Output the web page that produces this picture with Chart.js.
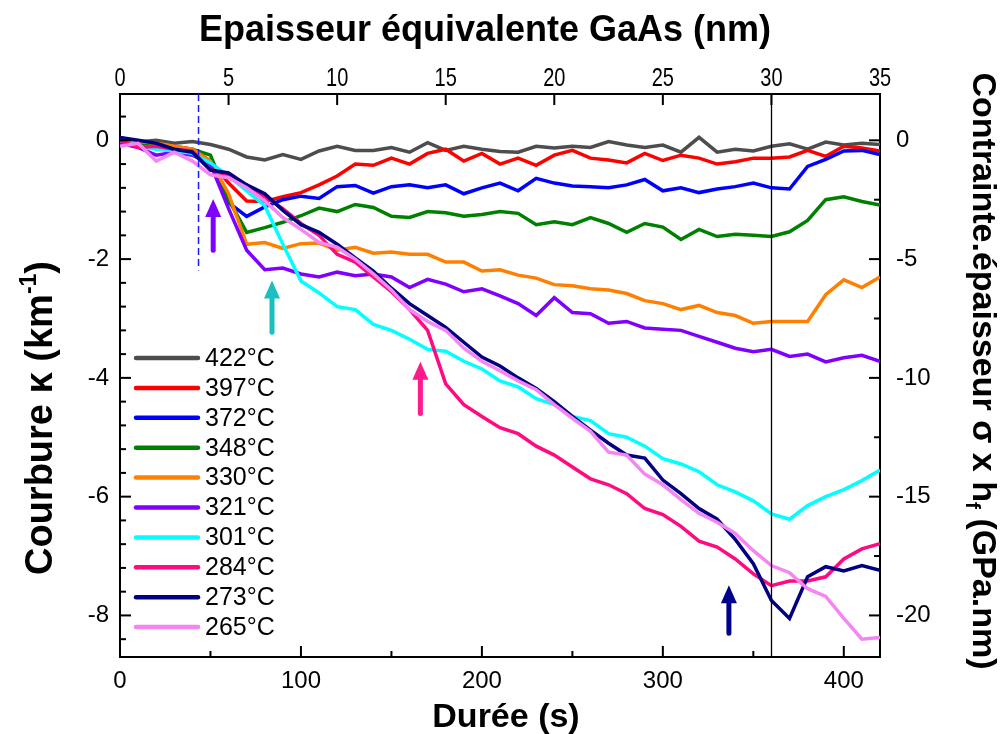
<!DOCTYPE html>
<html><head><meta charset="utf-8">
<script src="https://cdn.jsdelivr.net/npm/chart.js@4.4.1/dist/chart.umd.min.js"></script>
<style>html,body{margin:0;padding:0;background:#fff}#wrap{width:1002px;height:734px}</style>
</head><body><div id="wrap"><canvas id="c" width="1002" height="734"></canvas></div>
<script>
// ---------- data ----------
const times = [0,10,20,30,40,50,60,70,80,90,100,110,120,130,140,150,160,170,180,190,200,210,220,230,240,250,260,270,280,290,300,310,320,330,340,350,360,370,380,390,400,410,420];
const seriesLabels = ['422°C','397°C','372°C','348°C','330°C','321°C','301°C','284°C','273°C','265°C'];
const s422 = [0.02,-0.03,0.0,-0.05,-0.02,-0.07,-0.15,-0.28,-0.33,-0.24,-0.32,-0.18,-0.1,-0.17,-0.17,-0.12,-0.2,-0.04,-0.17,-0.1,-0.15,-0.19,-0.2,-0.1,-0.13,-0.1,-0.12,-0.02,-0.08,-0.12,-0.08,-0.2,0.05,-0.2,-0.15,-0.18,-0.1,-0.06,-0.15,-0.03,-0.08,-0.05,-0.07];
const s397 = [0.0,-0.1,-0.12,-0.1,-0.15,-0.35,-0.72,-1.02,-1.03,-0.95,-0.88,-0.75,-0.6,-0.4,-0.42,-0.3,-0.4,-0.22,-0.15,-0.35,-0.22,-0.4,-0.3,-0.42,-0.25,-0.17,-0.3,-0.33,-0.38,-0.22,-0.34,-0.25,-0.3,-0.4,-0.36,-0.3,-0.3,-0.28,-0.17,-0.27,-0.1,-0.13,-0.18];
const s372 = [0.05,-0.05,-0.1,-0.12,-0.18,-0.4,-1.05,-1.28,-1.12,-1.0,-0.94,-0.98,-0.78,-0.76,-0.89,-0.78,-0.75,-0.8,-0.75,-0.9,-0.8,-0.72,-0.85,-0.64,-0.72,-0.77,-0.78,-0.8,-0.75,-0.66,-0.85,-0.8,-0.88,-0.82,-0.78,-0.72,-0.8,-0.82,-0.44,-0.32,-0.18,-0.17,-0.24];
const s348 = [0.0,-0.05,-0.08,-0.12,-0.15,-0.25,-1.0,-1.55,-1.47,-1.38,-1.27,-1.14,-1.2,-1.08,-1.13,-1.28,-1.3,-1.2,-1.22,-1.28,-1.25,-1.2,-1.23,-1.42,-1.37,-1.42,-1.3,-1.4,-1.55,-1.4,-1.46,-1.67,-1.5,-1.62,-1.58,-1.6,-1.62,-1.54,-1.35,-1.0,-0.95,-1.03,-1.09];
const s330 = [0.0,-0.02,-0.05,-0.1,-0.15,-0.35,-0.9,-1.75,-1.72,-1.82,-1.74,-1.73,-1.85,-1.8,-1.9,-1.88,-1.92,-1.92,-2.05,-2.05,-2.2,-2.18,-2.27,-2.32,-2.43,-2.45,-2.5,-2.52,-2.58,-2.7,-2.75,-2.85,-2.78,-2.9,-2.95,-3.08,-3.05,-3.05,-3.05,-2.6,-2.35,-2.48,-2.3];
const s321 = [-0.05,-0.12,-0.25,-0.2,-0.25,-0.4,-1.15,-1.85,-2.18,-2.15,-2.25,-2.3,-2.22,-2.28,-2.25,-2.3,-2.48,-2.34,-2.42,-2.55,-2.5,-2.62,-2.75,-2.95,-2.65,-2.9,-2.92,-3.08,-3.05,-3.16,-3.18,-3.2,-3.3,-3.4,-3.5,-3.56,-3.52,-3.64,-3.6,-3.73,-3.66,-3.62,-3.72];
const s301 = [0.0,-0.1,-0.15,-0.18,-0.22,-0.38,-0.6,-0.85,-1.1,-1.75,-2.37,-2.57,-2.8,-2.85,-3.1,-3.2,-3.35,-3.52,-3.55,-3.72,-3.85,-4.05,-4.15,-4.35,-4.45,-4.65,-4.72,-4.94,-5.0,-5.15,-5.36,-5.45,-5.58,-5.8,-5.92,-6.07,-6.29,-6.38,-6.15,-6.0,-5.88,-5.73,-5.55];
const s284 = [0.0,-0.12,-0.1,-0.15,-0.18,-0.5,-0.58,-0.75,-0.95,-1.15,-1.4,-1.6,-1.92,-2.05,-2.3,-2.55,-2.85,-3.2,-4.1,-4.45,-4.65,-4.84,-4.94,-5.15,-5.3,-5.5,-5.7,-5.8,-5.95,-6.2,-6.3,-6.5,-6.75,-6.85,-7.05,-7.3,-7.5,-7.42,-7.42,-7.35,-7.05,-6.88,-6.79];
const s273 = [0.05,0.0,-0.05,-0.15,-0.2,-0.5,-0.55,-0.75,-0.9,-1.18,-1.42,-1.55,-1.75,-1.98,-2.2,-2.49,-2.75,-2.95,-3.15,-3.4,-3.65,-3.8,-4.0,-4.18,-4.4,-4.65,-4.88,-5.1,-5.3,-5.35,-5.72,-5.95,-6.2,-6.38,-6.72,-7.13,-7.75,-8.05,-7.35,-7.18,-7.25,-7.16,-7.24];
const s265 = [-0.1,-0.05,-0.35,-0.2,-0.35,-0.58,-0.63,-0.8,-1.02,-1.3,-1.5,-1.72,-1.8,-2.0,-2.25,-2.52,-2.85,-3.05,-3.2,-3.5,-3.72,-3.88,-4.05,-4.2,-4.45,-4.68,-4.9,-5.25,-5.3,-5.62,-5.8,-6.05,-6.28,-6.43,-6.62,-6.91,-7.16,-7.28,-7.55,-7.68,-8.05,-8.4,-8.37];
const allSeries = [s422,s397,s372,s348,s330,s321,s301,s284,s273,s265];
// annotation values (data units)
const growthEndTime = 360;          // vertical black line (s)
const dashTime = 43.4;              // blue dashed line (s)
const dashBottom = -2.19;           // its lower end (km-1)
const arrowTimes = [51.5, 84, 166, 336.5];
const arrowTips  = [-0.99, -2.36, -3.73, -7.49];
const arrowTails = [-1.85, -3.23, -4.6, -8.3];
// axis ranges
const xMin = 0, xMax = 420, xTop = 35;
const yMin = -8.7, yMax = 0.78;
const y2Min = -21.75, y2Max = 1.95;

// ---------- styles ----------
const colors = ['#4d4d4d','#ff0000','#0000ff','#008000','#ff8000','#8000ff','#00ffff','#ff0a80','#000080','#f585f2'];
const arrowColors = ['#8000ff','#1abfbf','#ff1a8c','#00008c'];
const FONT = "'Liberation Sans', Arial, Helvetica, sans-serif";

const datasets = allSeries.map((vals,i)=>({
  label: seriesLabels[i],
  data: times.map((t,j)=>({x:t, y:vals[j]})),
  borderColor: colors[i], backgroundColor: colors[i],
  borderWidth: 3.5, pointRadius: 0, tension: 0, fill: false,
  order: allSeries.length - i, xAxisID:'x', yAxisID:'y'
}));

function drawRich(ctx, parts, cx, cy, angle, sxScale){
  ctx.save();
  ctx.translate(cx, cy); ctx.rotate(angle); ctx.scale(sxScale||1, 1);
  let total = 0;
  parts.forEach(p=>{ ctx.font = p.f; p.w = ctx.measureText(p.t).width; total += p.w; });
  let x = -total/2;
  ctx.textBaseline = 'alphabetic'; ctx.textAlign = 'left'; ctx.fillStyle = '#000';
  parts.forEach(p=>{ ctx.font = p.f; ctx.fillText(p.t, x, p.dy||0); x += p.w; });
  ctx.restore();
}

const deco = {
  id: 'deco',
  afterDatasetsDraw(chart){
    const ctx = chart.ctx, a = chart.chartArea;
    const sx = chart.scales.x, sy = chart.scales.y;
    ctx.save();
    ctx.strokeStyle = '#000'; ctx.lineWidth = 1.3;
    const vx = Math.round(sx.getPixelForValue(growthEndTime)) + 0.5;
    ctx.beginPath(); ctx.moveTo(vx, a.top); ctx.lineTo(vx, a.bottom); ctx.stroke();
    ctx.strokeStyle = '#1a1aff'; ctx.lineWidth = 1.5; ctx.setLineDash([7,4]);
    const dx = sx.getPixelForValue(dashTime);
    ctx.beginPath(); ctx.moveTo(dx, a.top); ctx.lineTo(dx, sy.getPixelForValue(dashBottom)); ctx.stroke();
    ctx.setLineDash([]);
    arrowTimes.forEach((t,i)=>{
      const x = sx.getPixelForValue(t), yt = sy.getPixelForValue(arrowTips[i]), yb = sy.getPixelForValue(arrowTails[i]);
      ctx.fillStyle = arrowColors[i]; ctx.strokeStyle = arrowColors[i];
      const hl = 18, hw = 8;
      ctx.lineWidth = 5; ctx.lineCap = 'round';
      ctx.beginPath(); ctx.moveTo(x, yb); ctx.lineTo(x, yt + hl - 2); ctx.stroke();
      ctx.beginPath(); ctx.moveTo(x, yt); ctx.lineTo(x - hw, yt + hl); ctx.lineTo(x + hw, yt + hl); ctx.closePath(); ctx.fill();
    });
    ctx.lineCap = 'butt';
    ctx.restore();
  },
  afterDraw(chart){
    const ctx = chart.ctx, a = chart.chartArea;
    const sx = chart.scales.x, sx2 = chart.scales.x2, sy = chart.scales.y, sy2 = chart.scales.y2;
    ctx.save();
    ctx.strokeStyle = '#000'; ctx.lineWidth = 2;
    const tick = (x1,y1,x2,y2)=>{ ctx.beginPath(); ctx.moveTo(x1,y1); ctx.lineTo(x2,y2); ctx.stroke(); };
    for (let k = 1; k >= -21; k--) {
      const v = k*0.4, y = sy.getPixelForValue(v);
      const major = Math.abs(v/2 - Math.round(v/2)) < 1e-6;
      tick(a.left, y, a.left + (major ? 11 : 6), y);
    }
    for (let k = 0; k >= -8; k--) {
      const v = k*2.5, y = sy2.getPixelForValue(v);
      tick(a.right, y, a.right - (k % 2 === 0 ? 11 : 6), y);
    }
    for (let v = 0; v <= 400; v += 50) {
      const x = sx.getPixelForValue(v);
      tick(x, a.bottom, x, a.bottom - (v % 100 === 0 ? 11 : 6));
    }
    for (let v = 5; v <= 30; v += 5) {
      const x = sx2.getPixelForValue(v);
      tick(x, a.top, x, a.top + 11);
    }
    sx2.ticks.forEach(tk=>{
      drawRich(ctx, [{t:String(tk.value), f:'25px ' + FONT}], sx2.getPixelForValue(tk.value), 86, 0, 0.8);
    });
    const lx0 = 136, lx1 = 198, ly0 = 358, dy = 29.9;
    ctx.font = '25px ' + FONT; ctx.textBaseline = 'middle'; ctx.textAlign = 'left';
    chart.data.datasets.forEach((d,i)=>{
      const y = ly0 + i*dy;
      ctx.strokeStyle = d.borderColor; ctx.lineWidth = 4.5; ctx.lineCap = 'round';
      ctx.beginPath(); ctx.moveTo(lx0, y); ctx.lineTo(lx1, y); ctx.stroke();
      ctx.fillStyle = '#000'; ctx.fillText(d.label, 205, y + 1);
    });
    ctx.restore();
    const B = 'bold 34px ' + FONT, Bs = 'bold 21px ' + FONT;
    drawRich(ctx, [{t:'Epaisseur équivalente GaAs (nm)', f:'bold 36px ' + FONT}], 485, 41, 0);
    drawRich(ctx, [{t:'Durée (s)', f:B}], 506, 727, 0);
    drawRich(ctx, [{t:'Courbure κ (km', f:'bold 38px ' + FONT},{t:'-1', f:'bold 23px ' + FONT, dy:-16},{t:')', f:'bold 38px ' + FONT}], 52, 418, -Math.PI/2);
    drawRich(ctx, [{t:'Contrainte.épaisseur σ x h', f:B},{t:'f', f:Bs, dy:7},{t:' (GPa.nm)', f:B}], 973, 371, Math.PI/2);
  }
};

const tickFont = {family: FONT, size: 24};
new Chart(document.getElementById('c'), {
  type: 'line',
  data: { datasets },
  options: {
    responsive: false, animation: false, devicePixelRatio: 1,
    layout: { padding: 0 },
    plugins: { legend: {display:false}, tooltip: {enabled:false}, title: {display:false} },
    scales: {
      x: { type:'linear', position:'bottom', min:xMin, max:xMax,
           ticks:{ stepSize:100, includeBounds:false, font:tickFont, color:'#000', padding:10, maxRotation:0 },
           grid:{ display:false, drawTicks:false }, border:{ display:true, color:'#000', width:2 },
           afterFit: s => { s.height = 77; } },
      x2: { type:'linear', position:'top', min:0, max:xTop,
           ticks:{ stepSize:5, includeBounds:false, display:false },
           grid:{ display:false, drawTicks:false }, border:{ display:true, color:'#000', width:2 },
           afterFit: s => { s.height = 94; } },
      y: { type:'linear', position:'left', min:yMin, max:yMax,
           ticks:{ stepSize:2, includeBounds:false, font:tickFont, color:'#000', padding:11 },
           grid:{ display:false, drawTicks:false }, border:{ display:true, color:'#000', width:2 },
           afterFit: s => { s.width = 120; } },
      y2: { type:'linear', position:'right', min:y2Min, max:y2Max,
           ticks:{ stepSize:5, includeBounds:false, font:tickFont, color:'#000', padding:16 },
           grid:{ display:false, drawTicks:false }, border:{ display:true, color:'#000', width:2 },
           afterFit: s => { s.width = 122; } }
    }
  },
  plugins: [deco]
});
</script></body></html>
